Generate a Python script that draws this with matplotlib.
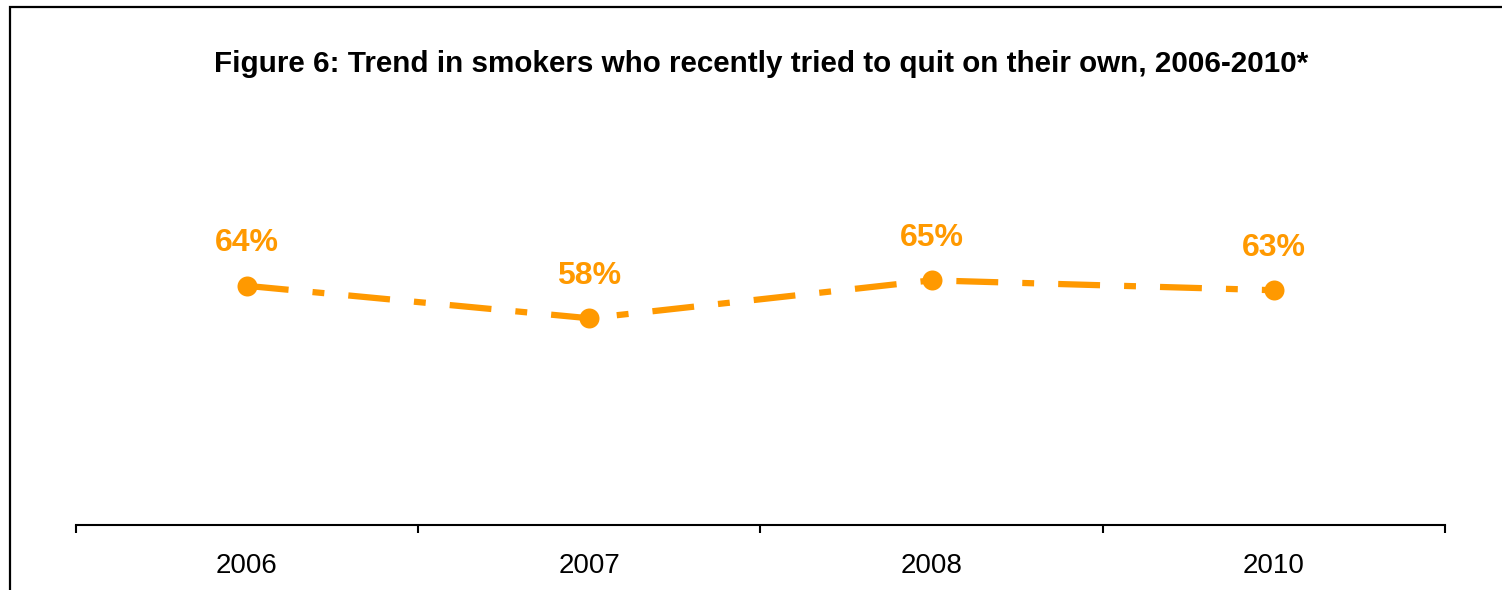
import matplotlib
matplotlib.use("Agg")
import matplotlib.pyplot as plt
from matplotlib.patches import Rectangle

plt.rcParams['font.family'] = ['Liberation Sans', 'DejaVu Sans']

# ---- data ----
years = ["2006", "2007", "2008", "2010"]
values = [63.9, 58.0, 64.9, 63.1]
title = "Figure 6: Trend in smokers who recently tried to quit on their own, 2006-2010*"

ORANGE = "#FF9900"
W, H = 1502, 590
fig = plt.figure(figsize=(W / 100, H / 100), dpi=100)

# figure border (top + left visible; right and bottom run off the canvas)
fig.patches.append(Rectangle((10 / W, -0.1), 1.2, (H - 7.5) / H + 0.1,
                             transform=fig.transFigure, fill=False,
                             edgecolor="black", linewidth=1.6, zorder=0))

ax_left, ax_right = 75.7, 1445
ax_bottom, ax_top = 525, 100
ax = fig.add_axes([ax_left / W, (H - ax_bottom) / H,
                   (ax_right - ax_left) / W, (ax_bottom - ax_top) / H])
ax.set_facecolor("none")

xs = list(range(len(years)))
ax.set_xlim(-0.5, len(years) - 0.5)
ax.set_ylim(20.4, 97.7)

ax.plot(xs, values, color=ORANGE, linewidth=4.5,
        linestyle=(0, (6.7, 3.85, 1.9, 3.85)), dash_capstyle="butt",
        marker="o", markersize=14.4, markeredgewidth=0, zorder=2)

for x, v in zip(xs, values):
    ax.annotate(f"{v:.0f}%", (x, v), xytext=(0, 24.8), textcoords="offset points",
                ha="center", va="baseline", fontsize=23, fontweight="bold",
                color=ORANGE)

# axes styling
for s in ["left", "right", "top"]:
    ax.spines[s].set_visible(False)
ax.spines["bottom"].set_linewidth(1.5)
ax.spines["bottom"].set_color("black")
ax.set_yticks([])
ax.set_xticks([i - 0.5 for i in range(len(years) + 1)])
ax.set_xticklabels([])
ax.tick_params(axis="x", which="major", length=6, width=1.5, color="black",
               direction="out")
ax.set_xticks(xs, minor=True)
ax.set_xticklabels(years, minor=True)
ax.tick_params(axis="x", which="minor", length=0, pad=20, labelsize=20,
               labelcolor="black")

fig.text(761 / W, (H - 72) / H, title, ha="center", va="baseline",
         fontsize=21.3, fontweight="bold", color="black")

fig.savefig("out.png", dpi=100)
